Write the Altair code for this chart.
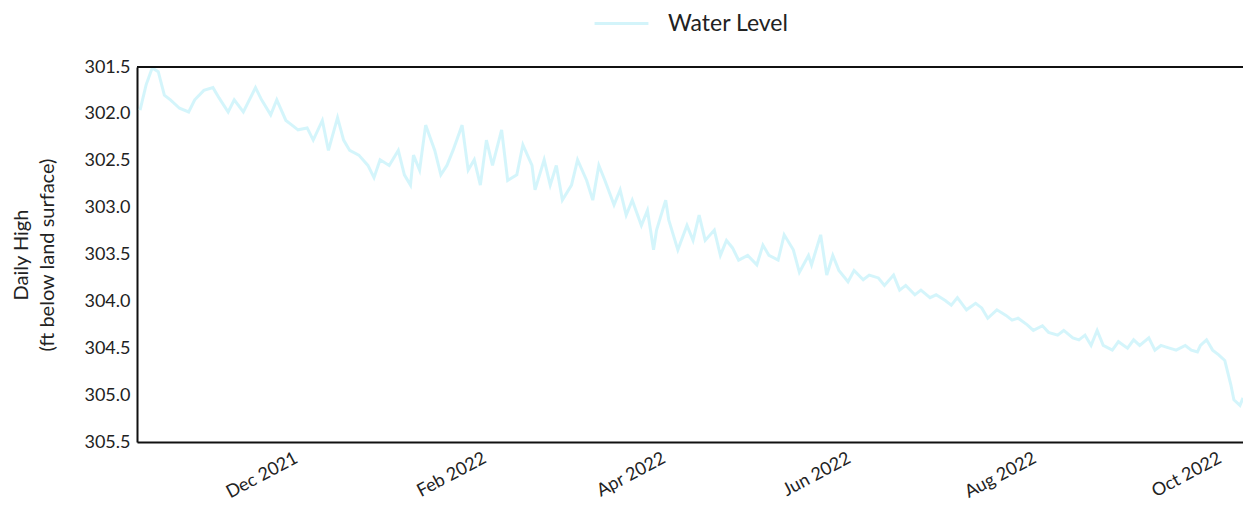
import altair as alt
import pandas as pd

dates = [
    "2021-10-12", "2021-10-14", "2021-10-16", "2021-10-18", "2021-10-20", "2021-10-22",
    "2021-10-25", "2021-10-28", "2021-10-30", "2021-11-02", "2021-11-05", "2021-11-07",
    "2021-11-10", "2021-11-12", "2021-11-15", "2021-11-19", "2021-11-21", "2021-11-24",
    "2021-11-26", "2021-11-29", "2021-12-01", "2021-12-03", "2021-12-06", "2021-12-08",
    "2021-12-11", "2021-12-13", "2021-12-16", "2021-12-18", "2021-12-20", "2021-12-23",
    "2021-12-26", "2021-12-28", "2021-12-30", "2022-01-02", "2022-01-05", "2022-01-07",
    "2022-01-09", "2022-01-10", "2022-01-12", "2022-01-14", "2022-01-17", "2022-01-19",
    "2022-01-21", "2022-01-23", "2022-01-26", "2022-01-28", "2022-01-30", "2022-02-01",
    "2022-02-03", "2022-02-05", "2022-02-08", "2022-02-10", "2022-02-13", "2022-02-15",
    "2022-02-18", "2022-02-19", "2022-02-22", "2022-02-24", "2022-02-26", "2022-02-28",
    "2022-03-03", "2022-03-05", "2022-03-08", "2022-03-10", "2022-03-12", "2022-03-14",
    "2022-03-17", "2022-03-19", "2022-03-21", "2022-03-23", "2022-03-26", "2022-03-28",
    "2022-03-30", "2022-03-31", "2022-04-03", "2022-04-04", "2022-04-07", "2022-04-10",
    "2022-04-12", "2022-04-14", "2022-04-16", "2022-04-19", "2022-04-21", "2022-04-23",
    "2022-04-25", "2022-04-27", "2022-04-30", "2022-05-03", "2022-05-05", "2022-05-07",
    "2022-05-10", "2022-05-12", "2022-05-15", "2022-05-17", "2022-05-20", "2022-05-21",
    "2022-05-24", "2022-05-26", "2022-05-28", "2022-05-30", "2022-06-02", "2022-06-04",
    "2022-06-07", "2022-06-09", "2022-06-12", "2022-06-14", "2022-06-17", "2022-06-19",
    "2022-06-21", "2022-06-24", "2022-06-26", "2022-06-29", "2022-07-01", "2022-07-04",
    "2022-07-06", "2022-07-08", "2022-07-11", "2022-07-14", "2022-07-16", "2022-07-18",
    "2022-07-21", "2022-07-24", "2022-07-26", "2022-07-28", "2022-07-31", "2022-08-02",
    "2022-08-05", "2022-08-07", "2022-08-10", "2022-08-12", "2022-08-15", "2022-08-17",
    "2022-08-19", "2022-08-21", "2022-08-23", "2022-08-25", "2022-08-28", "2022-08-30",
    "2022-09-02", "2022-09-04", "2022-09-06", "2022-09-09", "2022-09-11", "2022-09-13",
    "2022-09-15", "2022-09-18", "2022-09-21", "2022-09-23", "2022-09-25", "2022-09-26",
    "2022-09-28", "2022-09-30", "2022-10-02", "2022-10-04", "2022-10-06", "2022-10-07",
    "2022-10-09", "2022-10-10",
]

water_level = [
    301.96, 301.69, 301.51, 301.55, 301.80, 301.85,
    301.94, 301.98, 301.85, 301.75, 301.72, 301.83,
    301.98, 301.85, 301.98, 301.72, 301.85, 302.01,
    301.85, 302.07, 302.12, 302.17, 302.15, 302.28,
    302.07, 302.39, 302.04, 302.28, 302.39, 302.44,
    302.55, 302.68, 302.49, 302.55, 302.39, 302.65,
    302.76, 302.44, 302.60, 302.12, 302.39, 302.65,
    302.55, 302.39, 302.12, 302.60, 302.49, 302.76,
    302.28, 302.55, 302.17, 302.71, 302.65, 302.33,
    302.55, 302.81, 302.49, 302.76, 302.55, 302.92,
    302.76, 302.49, 302.71, 302.92, 302.55, 302.71,
    302.97, 302.81, 303.08, 302.92, 303.19, 303.03,
    303.45, 303.24, 302.92, 303.13, 303.45, 303.19,
    303.35, 303.08, 303.35, 303.24, 303.51, 303.35,
    303.43, 303.56, 303.51, 303.61, 303.40, 303.51,
    303.56, 303.29, 303.45, 303.69, 303.51, 303.61,
    303.29, 303.72, 303.51, 303.67, 303.79, 303.67,
    303.77, 303.72, 303.75, 303.83, 303.72, 303.88,
    303.83, 303.93, 303.88, 303.96, 303.93, 303.99,
    304.04, 303.96, 304.09, 304.02, 304.07, 304.18,
    304.09, 304.15, 304.20, 304.18, 304.25, 304.31,
    304.26, 304.33, 304.36, 304.31, 304.39, 304.41,
    304.36, 304.47, 304.31, 304.47, 304.52, 304.43,
    304.50, 304.41, 304.47, 304.39, 304.52, 304.47,
    304.49, 304.52, 304.47, 304.52, 304.54, 304.47,
    304.41, 304.52, 304.57, 304.63, 304.89, 305.05,
    305.11, 305.03,
]

series_name = ["Water Level"]
x_domain = ["2021-10-11", "2022-10-10"]
x_tick_dates = ["2021-12-01", "2022-02-01", "2022-04-01", "2022-06-01", "2022-08-01", "2022-10-01"]
y_domain = [301.5, 305.5]
y_ticks = [301.5, 302.0, 302.5, 303.0, 303.5, 304.0, 304.5, 305.0, 305.5]
y_title = ["Daily High", "(ft below land surface)"]

df = pd.DataFrame({"date": dates, "level": water_level, "series": series_name[0]})
top_df = pd.DataFrame({"level": [y_domain[0]]})

FONT = "Lato"

x_scale = alt.Scale(domain=x_domain)
y_scale = alt.Scale(domain=y_domain, reverse=True, nice=False, zero=False)

line = alt.Chart(df).mark_line(strokeWidth=3, opacity=0.8).encode(
    x=alt.X(
        "date:T",
        scale=x_scale,
        title=None,
        axis=alt.Axis(
            values=x_tick_dates,
            format="%b %Y",
            labelAngle=-28,
            labelAlign="right",
            labelBaseline="top",
            labelPadding=7,
            labelFontSize=18,
            labelFont=FONT,
            labelColor="#222222",
            ticks=False,
            grid=False,
            domainColor="#111111",
            domainWidth=2,
        ),
    ),
    y=alt.Y(
        "level:Q",
        scale=y_scale,
        title=y_title,
        axis=alt.Axis(
            values=y_ticks,
            format=".1f",
            labelFontSize=18,
            labelFont=FONT,
            labelColor="#222222",
            labelPadding=7,
            ticks=False,
            grid=False,
            domainColor="#111111",
            domainWidth=2,
            titleFont=FONT,
            titleFontSize=20,
            titleFontWeight="normal",
            titleColor="#222222",
            titlePadding=26,
            titleLineHeight=26,
        ),
    ),
    color=alt.Color(
        "series:N",
        scale=alt.Scale(domain=series_name, range=["#c9f2fa"]),
        legend=alt.Legend(
            orient="none",
            legendX=456,
            legendY=-72,
            title=None,
            symbolType="stroke",
            symbolSize=2900,
            symbolStrokeWidth=3,
            labelOffset=18,
            labelFont=FONT,
            labelFontSize=23,
            labelColor="#222222",
        ),
    ),
)

top_border = alt.Chart(top_df).mark_rule(color="#111111", strokeWidth=2).encode(
    y=alt.Y("level:Q", scale=y_scale)
)

chart = alt.layer(line, top_border).properties(
    width=1106,
    height=375,
    autosize=alt.AutoSizeParams(type="none"),
    padding={"left": 129, "top": 59, "right": 0, "bottom": 70},
).configure_view(stroke=None).configure(background="white")

chart.save("out.html", embed_options={"renderer": "svg", "actions": False})
